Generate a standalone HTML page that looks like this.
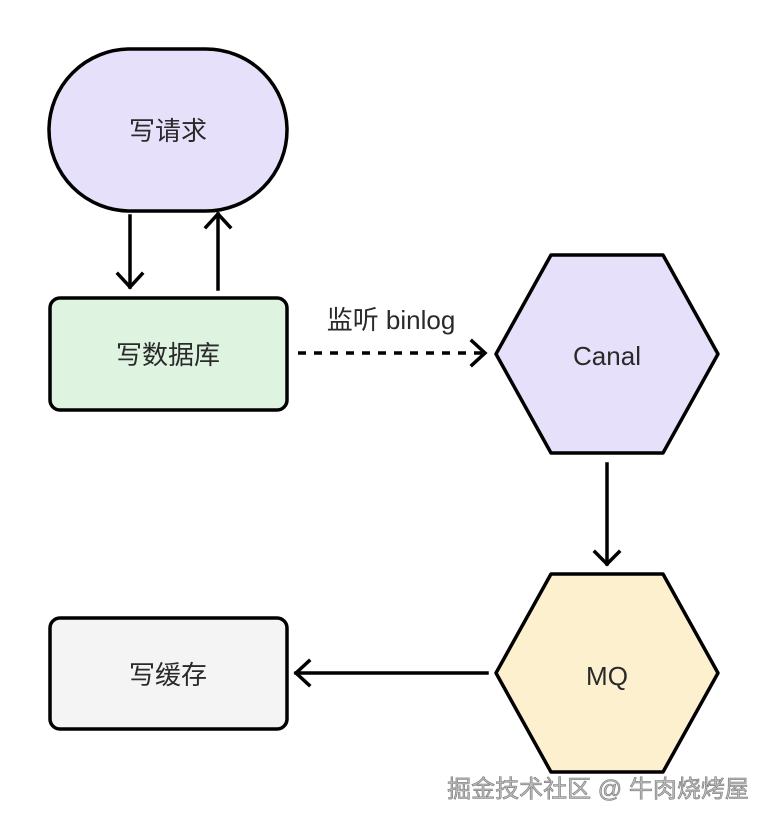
<!DOCTYPE html>
<html><head><meta charset="utf-8"><style>
html,body{margin:0;padding:0;background:#fff;}
svg text{font-family:"Liberation Sans","Noto Sans CJK SC",sans-serif;fill:#2a2a2a;}
</style></head><body>
<svg width="770" height="824" viewBox="0 0 770 824" xmlns="http://www.w3.org/2000/svg">
<rect width="770" height="824" fill="#fff"/>
<g stroke="#000" stroke-width="3.5" stroke-linejoin="round">
<rect x="49" y="49" width="238" height="162" rx="81" fill="#e6e0fb"/>
<rect x="50" y="298" width="237" height="112" rx="10" fill="#dff3e1"/>
<rect x="50" y="618" width="237" height="111" rx="10" fill="#f4f4f4"/>
<polygon points="551,255 663,255 718,354 663,453 551,453 496,354" fill="#e6e0fb"/>
<polygon points="551,574 663,574 718,673 663,772 551,772 496,673" fill="#fcf0cf"/>
</g>
<g stroke="#000" stroke-width="3.5" fill="none" stroke-linecap="square">
<line x1="130" y1="216" x2="130" y2="287"/>
<polyline points="118,274 130,287 142,274"/>
<line x1="218" y1="289" x2="218" y2="214"/>
<polyline points="206,227 218,214 230,227"/>
<line x1="298" y1="353" x2="484" y2="353" stroke-dasharray="8,8" stroke-linecap="butt"/>
<polyline points="472,341 485,353 472,365"/>
<line x1="607" y1="464" x2="607" y2="564"/>
<polyline points="595,552 607,564 619,552"/>
<line x1="487" y1="673" x2="296" y2="673"/>
<polyline points="309,661 296,673 309,685"/>
</g>
<g font-size="26" text-anchor="middle">
<text x="168" y="140">写请求</text>
<text x="168" y="364">写数据库</text>
<text x="168" y="684">写缓存</text>
<text x="607" y="365">Canal</text>
<text x="607" y="685">MQ</text>
<text x="391" y="329">监听 binlog</text>
</g>
<text x="598" y="797" font-size="24" text-anchor="middle" style="fill:#bdbdbd;stroke:#777;stroke-width:0.6">掘金技术社区 @ 牛肉烧烤屋</text>
</svg>
</body></html>
